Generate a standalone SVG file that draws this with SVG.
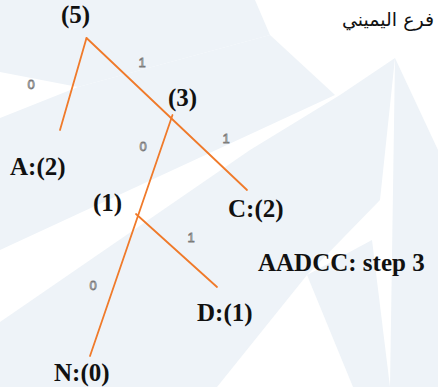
<svg xmlns="http://www.w3.org/2000/svg" width="438" height="387" viewBox="0 0 438 387">
<style>
.bg{fill:#eef3f8;stroke:none}
.wh{fill:#ffffff;stroke:none}
.node{font-family:"Liberation Serif","Times New Roman",serif;font-weight:bold;font-size:25px;fill:#111}
.edge{stroke:#f07a2a;stroke-width:1.8;fill:none;stroke-linecap:round}
.bit{font-family:"Liberation Sans",Arial,sans-serif;font-size:13px;fill:#ffffff;stroke:#7a7a7a;stroke-width:0.8;text-anchor:middle}
.ar{font-family:"DejaVu Sans","Noto Sans",sans-serif;font-size:19px;fill:#111}
</style>
<rect width="438" height="387" fill="#ffffff"/>
<g id="watermark">
<polygon class="bg" points="0,0 255,0 270,35 78,87 0,72"/>
<polygon class="bg" points="0,118 78,87 270,35 335,95 0,250"/>
<polygon class="bg" points="395,58 438,150 438,387 390,387"/>
<polygon class="bg" points="0,322 250,150 340,95 395,58 380,200 307,275 217,387 120,387 0,387"/>
<polygon class="bg" points="307,275 353,387 390,387 372,240"/>
</g>
<g id="connectors">
<line class="edge" x1="86.5" y1="38" x2="60" y2="130"/>
<line class="edge" x1="86.5" y1="38" x2="247" y2="190"/>
<line class="edge" x1="172.5" y1="115" x2="90" y2="356"/>
<line class="edge" x1="136" y1="214" x2="217" y2="287"/>
<text class="bit" x="31" y="89">0</text>
<text class="bit" x="142" y="67">1</text>
<text class="bit" x="143" y="151">0</text>
<text class="bit" x="226" y="143">1</text>
<text class="bit" x="191" y="242">1</text>
<text class="bit" x="93" y="290">0</text>
</g>
<g id="n5"><text class="node" x="61" y="23">(5)</text></g>
<g id="n3"><text class="node" x="168" y="106">(3)</text></g>
<g id="nA"><text class="node" x="10" y="175">A:(2)</text></g>
<g id="n1"><text class="node" x="93" y="211">(1)</text></g>
<g id="nC"><text class="node" x="228" y="217">C:(2)</text></g>
<g id="nD"><text class="node" x="197" y="321">D:(1)</text></g>
<g id="nN"><text class="node" x="54" y="381">N:(0)</text></g>
<g id="title"><text class="node" x="258" y="271">AADCC: step 3</text></g>
<g id="note"><text class="ar" x="342" y="26">فرع اليميني</text></g>
</svg>
